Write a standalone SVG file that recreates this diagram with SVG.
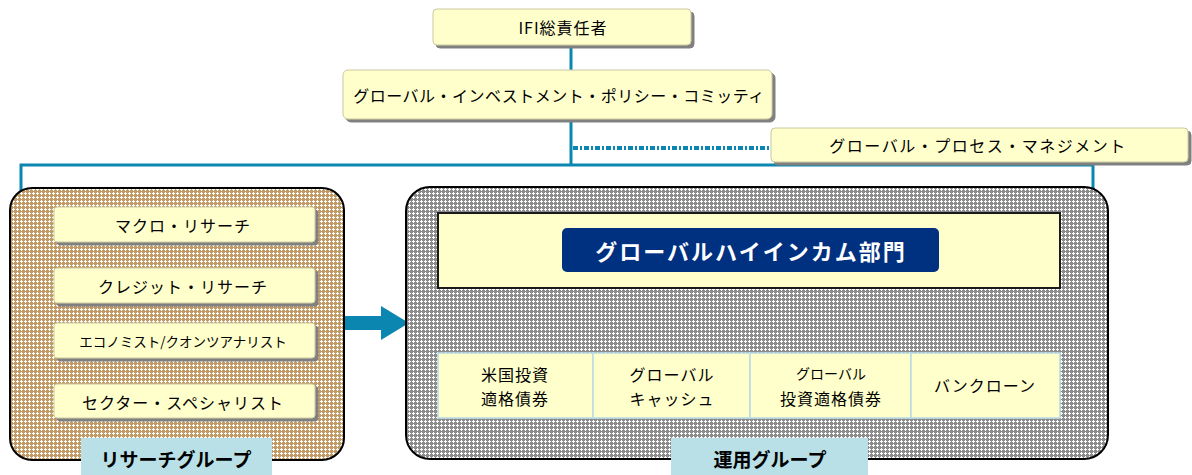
<svg xmlns="http://www.w3.org/2000/svg" width="1192" height="475" viewBox="0 0 1192 475">
<defs>
<pattern id="tan" width="4" height="4" patternUnits="userSpaceOnUse">
<rect width="4" height="4" fill="#c29a66"/>
<rect x="0" y="1" width="3" height="1" fill="#ffffff"/>
<rect x="1" y="0" width="1" height="3" fill="#ffffff"/>
</pattern>
<pattern id="grey" width="4" height="4" patternUnits="userSpaceOnUse">
<rect width="4" height="4" fill="#8c8c8c"/>
<rect x="0" y="1" width="3" height="1" fill="#ffffff"/>
<rect x="1" y="0" width="1" height="3" fill="#ffffff"/>
</pattern>
<filter id="sh" x="-5%" y="-20%" width="110%" height="150%">
<feDropShadow dx="3" dy="3" stdDeviation="0.5" flood-color="#808080" flood-opacity="1"/>
</filter>
</defs>
<style>
text{font-family:"Noto Sans CJK JP","Noto Sans",sans-serif;fill:#000;text-anchor:middle;dominant-baseline:central}
.box{fill:#ffffcc;stroke:#c8c8a0;stroke-width:1;filter:url(#sh)}
.ln{stroke:#0a86b0;stroke-width:3;fill:none}
.t16{font-size:16px;letter-spacing:1px}
.lbl{fill:#b8e0e6}
.b{font-weight:bold;font-size:19px}
.cell{fill:#ffffcc;stroke:#b8dce6;stroke-width:1.5}
</style>

<g id="connectors">
<line class="ln" x1="571" y1="45" x2="571" y2="70"/>
<line class="ln" x1="571" y1="120" x2="571" y2="165"/>
<line x1="573" y1="148" x2="772" y2="148" stroke="#0a86b0" stroke-width="4" stroke-dasharray="5 2 2 2"/>
<polyline class="ln" points="21,400 21,165 1093,165 1093,398 1060,398"/>
<line class="ln" x1="1060" y1="227" x2="1093" y2="227"/>
<line class="ln" x1="21" y1="227" x2="55" y2="227"/>
<line class="ln" x1="21" y1="285" x2="55" y2="285"/>
<line class="ln" x1="21" y1="337" x2="55" y2="337"/>
<line class="ln" x1="21" y1="400" x2="55" y2="400"/>
<polygon points="343,316 381,316 381,306 409,323 381,340 381,330 343,330" fill="#0a86b0"/>
</g>

<g id="ifi">
<rect class="box" x="433" y="9" width="258" height="36" rx="4"/>
<text class="t16" x="563" y="27" font-size="17">IFI総責任者</text>
</g>

<g id="policy">
<rect class="box" x="343" y="70" width="429" height="49" rx="5"/>
<text class="t16" x="559" y="95" style="letter-spacing:0.5px">グローバル・インベストメント・ポリシー・コミッティ</text>
</g>

<g id="gpm">
<rect class="box" x="771" y="128" width="417" height="34" rx="4"/>
<text class="t16" x="978" y="145" style="letter-spacing:1.5px">グローバル・プロセス・マネジメント</text>
</g>

<g id="research">
<rect x="10" y="188" width="334" height="272" rx="22" fill="url(#tan)" stroke="#000" stroke-width="2"/>
<rect class="box" x="54" y="207" width="261" height="35" rx="3"/>
<text class="t16" x="183" y="225">マクロ・リサーチ</text>
<rect class="box" x="54" y="268" width="261" height="35" rx="3"/>
<text class="t16" x="183" y="286">クレジット・リサーチ</text>
<rect class="box" x="54" y="323" width="261" height="35" rx="3"/>
<text x="183" y="341" font-size="13.5px">エコノミスト/クオンツアナリスト</text>
<rect class="box" x="54" y="384" width="261" height="34" rx="3"/>
<text class="t16" x="183" y="402">セクター・スペシャリスト</text>
<rect class="lbl" x="81" y="438" width="191" height="37"/>
<text class="b" x="176" y="458">リサーチグループ</text>
</g>

<g id="operations">
<rect x="406" y="187" width="702" height="272" rx="24" fill="url(#grey)" stroke="#000" stroke-width="2"/>
<rect x="438" y="213" width="622" height="75" fill="#ffffcc" stroke="#1a1a1a" stroke-width="2"/>
<rect x="562" y="228" width="377" height="44" rx="5" fill="#003080"/>
<text x="751" y="250" font-size="22px" font-weight="bold" style="fill:#ffffff;letter-spacing:2px">グローバルハイインカム部門</text>
<rect class="cell" x="438" y="353" width="155" height="65"/>
<rect class="cell" x="593" y="353" width="157" height="65"/>
<rect class="cell" x="750" y="353" width="161" height="65"/>
<rect class="cell" x="911" y="353" width="149" height="65"/>
<text class="t16" x="515" y="374">米国投資</text>
<text class="t16" x="515" y="398">適格債券</text>
<text class="t16" x="672" y="374">グローバル</text>
<text class="t16" x="672" y="398">キャッシュ</text>
<text x="831" y="373" font-size="14px">グローバル</text>
<text class="t16" x="831" y="398">投資適格債券</text>
<text class="t16" x="985" y="385">バンクローン</text>
<rect class="lbl" x="671" y="438" width="197" height="37"/>
<text class="b" x="770" y="458">運用グループ</text>
</g>
</svg>
